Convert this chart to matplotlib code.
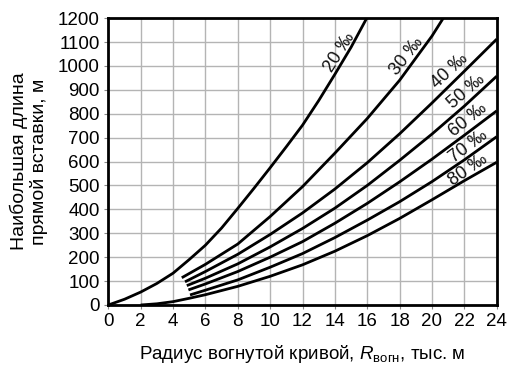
import matplotlib
matplotlib.use("Agg")
import matplotlib.pyplot as plt

plt.rcParams['font.family'] = ['Liberation Sans', 'DejaVu Sans']
plt.rcParams['mathtext.fontset'] = 'custom'
plt.rcParams['mathtext.rm'] = 'Liberation Sans'
plt.rcParams['mathtext.it'] = 'Liberation Sans:italic'

# Data (x: radius, thousand m; y: length, m)
x20 = [0, 1, 2, 3, 4, 5, 6, 7, 8, 9, 10, 11, 12, 13, 14, 15, 15.97]
y20 = [0, 24, 54, 90, 133, 190, 250, 322, 404, 488, 574, 662, 752, 855, 965, 1078, 1200]

x30 = [4.54, 6, 8, 10, 12, 14, 16, 18, 20, 20.7]
y30 = [114, 170, 255, 370, 495, 635, 780, 940, 1125, 1200]

x40 = [4.74, 6, 8, 10, 12, 14, 16, 18, 20, 22, 24]
y40 = [97, 140, 212, 295, 385, 485, 595, 716, 845, 978, 1112]

x50 = [4.85, 6, 8, 10, 12, 14, 16, 18, 20, 22, 24]
y50 = [81, 112, 172, 243, 320, 405, 500, 605, 715, 832, 957]

x60 = [4.95, 6, 8, 10, 12, 14, 16, 18, 20, 22, 24]
y60 = [63, 88, 140, 200, 265, 342, 425, 515, 610, 710, 812]

x70 = [5.05, 6, 8, 10, 12, 14, 16, 18, 20, 22, 24]
y70 = [42, 62, 105, 158, 215, 282, 355, 432, 516, 607, 704]

x80 = [2, 3, 4, 5, 6, 8, 10, 12, 14, 16, 18, 20, 22, 24]
y80 = [0, 5, 14, 28, 43, 78, 120, 168, 225, 290, 362, 440, 520, 597]

labels = ["20 ‰", "30 ‰", "40 ‰", "50 ‰", "60 ‰", "70 ‰", "80 ‰"]
label_x = [14.3, 18.45, 21.1, 22.15, 22.2, 22.25, 22.25]
label_y = [1055, 1042, 980, 892, 773, 662, 564]
label_rot = [58, 52, 43, 41, 39, 37, 35]

xticks = list(range(0, 25, 2))
yticks = list(range(0, 1201, 100))

fig = plt.figure(figsize=(5.15, 3.77), dpi=100)
ax = fig.add_axes([0.2103, 0.191, 0.7542, 0.761])

series = [(x20, y20), (x30, y30), (x40, y40), (x50, y50),
          (x60, y60), (x70, y70), (x80, y80)]
for xs, ys in series:
    ax.plot(xs, ys, color='black', lw=2.0, solid_capstyle='butt',
            solid_joinstyle='round', clip_on=True)

for t, lx, ly, r in zip(labels, label_x, label_y, label_rot):
    ax.text(lx, ly, t, rotation=r, ha='center', va='center',
            fontsize=13, color='#111111', rotation_mode='anchor')

ax.set_xlim(0, 24)
ax.set_ylim(0, 1200)
ax.set_xticks(xticks)
ax.set_yticks(yticks)
ax.grid(True, color='#b4b4b4', lw=1.0)
ax.set_axisbelow(True)
for s in ax.spines.values():
    s.set_linewidth(2.0)
    s.set_color('black')
ax.tick_params(axis='both', labelsize=13.5, length=3, width=0.8, color='#888888', pad=3)

ax.set_xlabel("Радиус вогнутой кривой, $R_{\\mathrm{вогн}}$, тыс. м",
              fontsize=13.5, labelpad=9)
ax.set_ylabel("Наибольшая длина\nпрямой вставки, м", fontsize=14, labelpad=7)

fig.savefig("out.png", dpi=100)
